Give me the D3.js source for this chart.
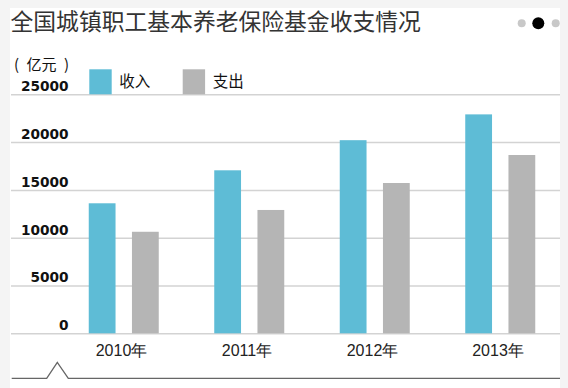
<!DOCTYPE html>
<html>
<head>
<meta charset="utf-8">
<script src="https://cdn.jsdelivr.net/npm/d3@7"></script>
<style>
  html, body { margin: 0; padding: 0; background: #f4f4f4; }
  svg { display: block; }
</style>
</head>
<body>
<div id="chart"></div>
<script>
// data (亿元)
const years = ['2010年', '2011年', '2012年', '2013年'];
const seriesNames = ['收入', '支出'];
const income = [13600, 17050, 20200, 22900];
const expense = [10620, 12900, 15720, 18650];
const yTicks = [0, 5000, 10000, 15000, 20000, 25000];

const colors = { '收入': '#5ebcd6', '支出': '#b5b5b5' };

const W = 568, H = 388;
const plot = { left: 11, right: 560, top: 94.3, bottom: 333.3 };

const svg = d3.select('#chart')
    .append('svg')
    .attr('width', W)
    .attr('height', H);

// white panel
svg.append('rect')
    .attr('x', 10).attr('y', 8)
    .attr('width', 550).attr('height', H - 8)
    .attr('fill', '#ffffff');

svg.append('text')
    .attr('x', 10.5)
    .attr('y', 30)
    .style('font-family', '"Noto Sans CJK SC", sans-serif')
    .style('font-size', '22.8px')
    .style('fill', '#333')
    .text('全国城镇职工基本养老保险基金收支情况');

// page dots top right
const dots = [{ r: 4, c: '#c8c8c8' }, { r: 6, c: '#000' }, { r: 4, c: '#c8c8c8' }];
svg.selectAll('.page-dot')
    .data(dots)
    .enter().append('circle')
    .attr('class', 'page-dot')
    .attr('cx', (d, i) => [521.7, 538.3, 555.7][i])
    .attr('cy', 23.3)
    .attr('r', d => d.r)
    .attr('fill', d => d.c);

const y = d3.scaleLinear()
    .domain([0, 25000])
    .range([plot.bottom, plot.top]);

const x = d3.scaleBand()
    .domain(years)
    .range([61.25, 563.25])
    .padding(0);

const xInner = d3.scaleBand()
    .domain(seriesNames)
    .range([27.5, 97.5])
    .paddingInner(0.38);

// gridlines + tick labels
const yAxis = svg.append('g')
    .attr('transform', `translate(${plot.left},0)`)
    .call(d3.axisRight(y).tickValues(yTicks).tickSize(plot.right - plot.left).tickFormat(d3.format('d')));
yAxis.select('.domain').remove();
yAxis.selectAll('.tick line')
    .attr('stroke', '#d3d3d3')
    .attr('stroke-width', 1.5);
yAxis.selectAll('.tick text')
    .attr('x', 57.5)
    .attr('y', 0)
    .attr('dy', -3.6)
    .attr('text-anchor', 'end')
    .style('font-family', '"DejaVu Sans", sans-serif')
    .style('font-weight', 'bold')
    .style('font-size', '13.7px')
    .style('fill', '#111');

svg.append('text')
    .attr('x', 14)
    .attr('y', 70)
    .style('font-family', '"Noto Sans CJK SC", sans-serif')
    .style('font-size', '15px')
    .style('fill', '#111')
    .text('(\u2002亿元\u2002)');

// legend
const legend = svg.selectAll('.legend')
    .data(seriesNames)
    .enter().append('g')
    .attr('class', 'legend')
    .attr('transform', (d, i) => `translate(${89.3 + i * 93.4},69.3)`);
legend.append('rect')
    .attr('width', 22.4)
    .attr('height', 25)
    .attr('fill', d => colors[d]);
legend.append('text')
    .attr('x', 30)
    .attr('y', 17.5)
    .style('font-family', '"Noto Sans CJK SC", sans-serif')
    .style('font-size', '15.5px')
    .style('fill', '#111')
    .text(d => d);

// bars
const rows = years.map((yr, i) => ({ year: yr, values: [
    { key: '收入', value: income[i] },
    { key: '支出', value: expense[i] }
] }));

const groups = svg.selectAll('.year-group')
    .data(rows)
    .enter().append('g')
    .attr('class', 'year-group')
    .attr('transform', d => `translate(${x(d.year)},0)`);

groups.selectAll('rect')
    .data(d => d.values)
    .enter().append('rect')
    .attr('x', d => xInner(d.key))
    .attr('y', d => y(d.value))
    .attr('width', xInner.bandwidth())
    .attr('height', d => y(0) - y(d.value))
    .attr('fill', d => colors[d.key]);

// x labels
const xAxis = svg.append('g')
    .attr('transform', `translate(-2.5,${plot.bottom})`)
    .call(d3.axisBottom(x).tickSize(0).tickPadding(0));
xAxis.select('.domain').remove();
xAxis.selectAll('.tick text')
    .attr('y', 22.4)
    .attr('dy', 0)
    .style('font-family', '"Liberation Sans", Arial, sans-serif')
    .style('font-size', '16px')
    .style('fill', '#222');

// bottom line with caret
svg.append('path')
    .attr('d', d3.line()([[11.7, 378.3], [46.7, 378.3], [57.3, 362.3], [68.3, 378.3], [560, 378.3]]))
    .attr('fill', 'none')
    .attr('stroke', '#666')
    .attr('stroke-width', 1.3);
</script>
</body>
</html>
